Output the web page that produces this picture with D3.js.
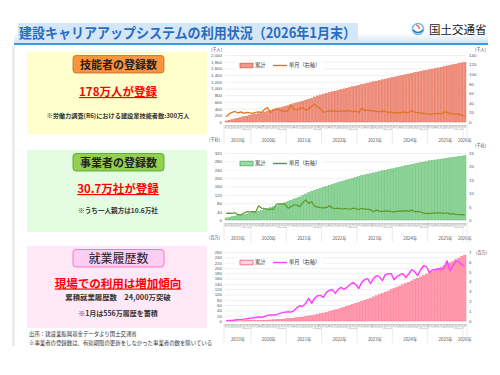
<!DOCTYPE html>
<html>
<head>
<meta charset="utf-8">
<script src="https://cdn.jsdelivr.net/npm/d3@7"></script>
<style>
  body { margin: 0; background: #fff; }
  svg { font-family: "Noto Sans CJK JP", "Noto Sans", sans-serif; }
</style>
</head>
<body>
<div id="chart"></div>
<script>
// months Apr 2019 .. Jan 2026
const years = ["2019年", "2020年", "2021年", "2022年", "2023年", "2024年", "2025年", "2026年"];
const yearMonthCounts = [9, 12, 12, 12, 12, 12, 12, 1];

// 技能者 累計 (千人) / 単月 (千人, 右軸)
const workersTotal = [30,50,72,94,115,135,155,175,195,
  215,235,256,276,300,328,350,372,398,422,446,468,
  490,520,546,572,598,626,652,680,712,748,780,810,
  835,858,880,902,924,945,966,987,1008,1030,1051,1072,
  1092,1114,1136,1158,1180,1200,1220,1240,1260,1280,1300,1320,
  1338,1357,1376,1395,1414,1434,1454,1473,1492,1510,1528,1546,
  1563,1581,1599,1617,1635,1655,1675,1692,1710,1728,1746,1764,
  1780];
const workersMonthly = [11,17,20,22,19,21,18,20,19,
  18,20,21,20,26,30,20,24,28,25,23,22,
  24,35,27,25,28,30,25,27,33,37,32,28,
  20,22,24,22,23,21,24,22,24,23,21,23,
  20,29,24,25,23,24,22,21,23,22,20,21,
  18,20,19,21,19,20,24,20,19,19,18,17,
  16,17,17,18,17,21,20,17,17,16,17,14,
  13];

// 事業者 累計 (千社) / 単月 (千社, 右軸)
const firmsTotal = [10,13,16,19,21,23,26,29,32,
  35,38,43,47,51,55,59,63,67,73,79,84,
  89,94,100,105,110,117,124,130,137,142,147,152,
  157,161,166,170,175,179,183,187,191,195,199,203,
  207,211,215,219,222,225,229,232,235,238,241,244,
  247,250,253,256,259,262,265,268,271,274,277,280,
  283,285,287,289,291,293,295,297,299,301,303,305,
  307];
const firmsMonthly = [2.5,2.6,2.5,2.7,2.0,1.9,2.6,3.1,3.0,
  3.1,3.0,5.3,4.4,4.3,4.0,4.1,3.9,5.8,6.0,6.0,5.8,
  4.4,5.0,5.6,5.6,5.0,6.5,7.5,6.2,6.8,5.2,4.8,4.6,
  4.5,4.6,5.3,4.5,4.2,4.4,4.1,4.3,4.2,4.0,4.4,4.2,
  3.9,4.4,4.0,4.1,3.8,3.1,3.7,3.3,3.2,3.4,3.3,3.1,
  3.0,3.2,3.4,3.3,3.5,3.2,3.7,3.1,3.2,3.0,2.6,2.5,
  2.4,2.6,2.6,2.7,2.6,2.5,2.7,2.2,2.4,2.1,2.0,2.0,
  1.9];

// 就業履歴 累計 (百万) / 単月 (百万, 右軸)
const historyTotal = [0.0,0.1,0.2,0.3,0.4,0.5,0.7,1.0,1.3,
  1.6,1.9,2.3,2.7,3.2,3.7,4.3,4.9,5.5,6.3,7.1,8.0,
  9.0,9.9,11,12,14,15,17,19,21,23,26,28,
  30,33,36,39,42,45,49,52,55,59,63,67,
  70,74,78,82,86,91,95,100,104,109,113,118,
  123,127,132,137,141,146,151,156,161,166,172,177,
  182,187,193,198,203,208,214,219,225,231,237,243,
  248];
const historyMonthly = [0.02,0.04,0.06,0.09,0.12,0.15,0.19,0.24,0.28,
  0.30,0.35,0.40,0.38,0.45,0.55,0.62,0.60,0.62,0.75,0.85,0.90,
  0.95,0.90,1.05,1.35,1.55,1.50,1.80,2.30,1.80,2.30,2.55,2.60,
  2.40,2.90,3.10,3.20,2.80,3.20,3.40,3.20,3.40,3.70,3.90,3.70,
  3.30,3.90,4.20,4.30,3.80,4.30,4.60,4.50,4.10,4.70,4.80,4.80,
  4.20,4.50,4.70,4.80,4.40,4.80,5.20,5.00,4.60,5.20,5.60,5.50,
  4.90,5.20,5.20,5.30,5.20,5.40,6.10,5.10,5.60,6.10,6.00,5.70,
  5.56];

// month labels (categories)
const monthLabels = [];
years.forEach((y, i) => {
  const start = i === 0 ? 4 : 1;
  for (let k = 0; k < yearMonthCounts[i]; k++) monthLabels.push((start + k) + "月");
});

const svg = d3.select("#chart").append("svg")
  .attr("width", 500)
  .attr("height", 375);

const defs = svg.append("defs");
const grad = defs.append("linearGradient").attr("id", "hdr").attr("x1", 0).attr("y1", 0).attr("x2", 0).attr("y2", 1);
grad.append("stop").attr("offset", "0%").attr("stop-color", "#ffffff");
grad.append("stop").attr("offset", "100%").attr("stop-color", "#cfe6f7");

// header
svg.append("rect").attr("x", 14).attr("y", 33).attr("width", 474).attr("height", 10).attr("fill", "url(#hdr)");
svg.append("rect").attr("x", 18).attr("y", 23).attr("width", 340).attr("height", 18).attr("fill", "#d4e7f8");
svg.append("line").attr("x1", 14).attr("x2", 488).attr("y1", 44).attr("y2", 44)
  .attr("stroke", "#3b9be0").attr("stroke-width", 2);
svg.append("text")
  .attr("x", 19).attr("y", 38)
  .attr("font-size", 14).attr("font-weight", "bold")
  .attr("fill", "#2a6cc0")
  .attr("textLength", 337).attr("lengthAdjust", "spacingAndGlyphs")
  .text("建設キャリアアップシステムの利用状況（2026年1月末）");

// logo
const logo = svg.append("g").attr("transform", "translate(418,29)");
logo.append("circle").attr("r", 5.5).attr("fill", "none").attr("stroke", "#6cb8ea").attr("stroke-width", 1.4);
logo.append("path").attr("d", "M-5,1 Q0,6 5,1").attr("fill", "none").attr("stroke", "#1b78c8").attr("stroke-width", 1.6);
logo.append("path").attr("d", "M-2,-4 Q2,-3 1,0").attr("fill", "none").attr("stroke", "#e23b3b").attr("stroke-width", 1.2);
svg.append("text").attr("x", 429).attr("y", 34).attr("font-size", 11.5).attr("fill", "#222").text("国土交通省");

// left gray rule
svg.append("rect").attr("x", 12).attr("y", 46).attr("width", 3).attr("height", 300).attr("fill", "#ececec");

// text panels
const panels = [
  { y: 52, fill: "#ffffcc", box: "#f7953f", boxStroke: "#c8682a", title: "技能者の登録数", bold: true,
    big: "178万人が登録", bigY: 96, notes: [["※労働力調査(R6)における建設業技能者数:300万人", 118, 6.2]] },
  { y: 150, fill: "#e4fde2", box: "#92d050", boxStroke: "#4f9a2c", title: "事業者の登録数", bold: true,
    big: "30.7万社が登録", bigY: 193, notes: [["※うち一人親方は10.6万社", 213, 6.6]] },
  { y: 246, fill: "#ffe8f7", box: "#ffcdf4", boxStroke: "#ff5fa8", title: "就業履歴数", bold: false,
    big: "現場での利用は増加傾向", bigY: 287.5, notes: [["累積就業履歴数　24,000万突破", 300, 7.4], ["※1月は556万履歴を蓄積", 316, 7]] }
];

panels.forEach(p => {
  svg.append("rect").attr("x", 27).attr("y", p.y).attr("width", 180).attr("height", 82).attr("fill", p.fill);
  svg.append("rect").attr("x", 73).attr("y", p.y + 3.5).attr("width", 91).attr("height", 17.5).attr("rx", 3)
    .attr("fill", p.box).attr("stroke", p.boxStroke).attr("stroke-width", 0.8);
  svg.append("text").attr("x", 118.5).attr("y", p.y + 16.5)
    .attr("text-anchor", "middle")
    .attr("font-size", p.bold ? 11 : 12)
    .attr("font-weight", p.bold ? "bold" : "normal")
    .attr("fill", "#222")
    .text(p.title);
  svg.append("text").attr("x", 118).attr("y", p.bigY)
    .attr("text-anchor", "middle")
    .attr("font-size", 11.5).attr("font-weight", "bold")
    .attr("fill", "#ff0000")
    .style("text-decoration", "underline")
    .text(p.big);
  p.notes.forEach(n => {
    svg.append("text").attr("x", 118).attr("y", n[1])
      .attr("text-anchor", "middle")
      .attr("font-size", n[2]).attr("font-weight", "bold")
      .attr("fill", "#333")
      .text(n[0]);
  });
});

// footnotes
svg.append("text").attr("x", 29).attr("y", 336).attr("font-size", 5.4).attr("fill", "#333")
  .text("出所：建設業振興基金データより国土交通省");
svg.append("text").attr("x", 29).attr("y", 345).attr("font-size", 5.4).attr("fill", "#333")
  .text("※事業者の登録数は、有効期限の更新をしなかった事業者の数を除いている");

// charts
const x0 = 225, x1 = 466;
const x = d3.scaleBand().domain(d3.range(monthLabels.length)).range([x0, x1]).paddingInner(0.2);

function drawChart(o) {
  const yL = d3.scaleLinear().domain([0, o.lMax]).range([o.yBot, o.yTop]);
  const yR = d3.scaleLinear().domain([0, o.rMax]).range([o.yBot, o.yTop]);
  const lTicks = d3.range(0, o.lMax + 0.001, o.lStep);
  const rTicks = d3.range(0, o.rMax + 0.001, o.rStep);
  const g = svg.append("g");

  // grid
  g.append("g").attr("transform", `translate(${x0},0)`)
    .call(d3.axisLeft(yL).tickValues(lTicks).tickSize(-(x1 - x0)).tickFormat(""))
    .call(a => a.select(".domain").remove())
    .selectAll("line").attr("stroke", "#e2e2e2").attr("stroke-width", 0.5);

  // left labels
  g.append("g").attr("transform", `translate(${x0 - 3},0)`)
    .call(d3.axisLeft(yL).tickValues(lTicks).tickSize(0).tickPadding(0).tickFormat(o.lFmt))
    .call(a => a.select(".domain").remove())
    .selectAll("text").attr("font-size", 4.4).attr("fill", "#555").attr("font-family", null);

  // right labels
  g.append("g").attr("transform", `translate(${x1 + 3},0)`)
    .call(d3.axisRight(yR).tickValues(rTicks).tickSize(0).tickPadding(0).tickFormat(d3.format("d")))
    .call(a => a.select(".domain").remove())
    .selectAll("text").attr("font-size", 4.4).attr("fill", "#555").attr("font-family", null);

  // units
  g.append("text").attr("x", o.lUnit[0]).attr("y", o.lUnit[1]).attr("font-size", 4.2).attr("fill", "#444").text(o.unit);
  g.append("text").attr("x", o.rUnit[0]).attr("y", o.rUnit[1]).attr("font-size", 4.2).attr("fill", "#444").text(o.unit);

  // bars
  g.append("g").selectAll("rect")
    .data(o.total)
    .join("rect")
    .attr("x", (d, i) => x(i))
    .attr("y", d => yL(d))
    .attr("width", x.bandwidth())
    .attr("height", d => o.yBot - yL(d))
    .attr("fill", o.barFill)
    .attr("stroke", o.barStroke)
    .attr("stroke-width", 0.35);

  // monthly line
  const line = d3.line()
    .x((d, i) => x(i) + x.bandwidth() / 2)
    .y(d => yR(d));
  g.append("path").datum(o.monthly)
    .attr("d", line)
    .attr("fill", "none")
    .attr("stroke", o.lineColor)
    .attr("stroke-width", o.lineW)
    .attr("stroke-linejoin", "round");

  // month labels
  g.append("g").selectAll("text")
    .data(monthLabels)
    .join("text")
    .attr("transform", (d, i) => `translate(${x(i) + x.bandwidth() / 2 + 1},${o.yBot + 2.5}) rotate(-90)`)
    .attr("text-anchor", "end")
    .attr("font-size", 2.8)
    .attr("fill", "#888")
    .text(d => d);

  // year groups
  let start = 0;
  const bounds = [x0 - 1];
  years.forEach((yl, i) => {
    const end = start + yearMonthCounts[i] - 1;
    const cx = (x(start) + x(end) + x.bandwidth()) / 2;
    g.append("text").attr("x", cx).attr("y", o.yBot + 19.5)
      .attr("text-anchor", "middle").attr("font-size", 4.4).attr("fill", "#555").text(yl);
    start = end + 1;
    bounds.push(i === years.length - 1 ? x1 + 1 : x(start) - 0.6);
  });
  g.append("g").selectAll("line")
    .data(bounds)
    .join("line")
    .attr("x1", d => d).attr("x2", d => d)
    .attr("y1", o.yBot + 2).attr("y2", o.yBot + 22)
    .attr("stroke", "#d6d6d6").attr("stroke-width", 0.5);

  // legend
  const ly = o.yTop + 10.5;
  g.append("rect").attr("x", 235).attr("y", ly - 5).attr("width", 88).attr("height", 10).attr("fill", "#fff");
  g.append("rect").attr("x", 240).attr("y", ly - 2.3).attr("width", 13).attr("height", 4.6)
    .attr("fill", o.legendFill).attr("stroke", o.barStroke).attr("stroke-width", 0.8);
  g.append("text").attr("x", 255).attr("y", ly + 1.8).attr("font-size", 5.2).attr("fill", "#333").text("累計");
  g.append("line").attr("x1", 273).attr("x2", 287).attr("y1", ly).attr("y2", ly)
    .attr("stroke", o.lineColor).attr("stroke-width", 1.4);
  g.append("text").attr("x", 289).attr("y", ly + 1.8).attr("font-size", 5.2).attr("fill", "#333").text("単月（右軸）");
}

drawChart({
  yTop: 55, yBot: 122, lMax: 2000, lStep: 200, rMax: 140, rStep: 20,
  lFmt: d3.format(","), unit: "(千人)", lUnit: [211, 51], rUnit: [475, 51],
  total: workersTotal, monthly: workersMonthly,
  barFill: "#ef8e7a", barStroke: "#df5c48", legendFill: "#f29a88",
  lineColor: "#e0761f", lineW: 1.3
});

drawChart({
  yTop: 153, yBot: 220, lMax: 320, lStep: 40, rMax: 25, rStep: 5,
  lFmt: d3.format("d"), unit: "(千社)", lUnit: [209, 141], rUnit: [475, 147],
  total: firmsTotal, monthly: firmsMonthly,
  barFill: "#8ad596", barStroke: "#4eae5c", legendFill: "#9bdba5",
  lineColor: "#5a9a26", lineW: 1.2
});

drawChart({
  yTop: 252, yBot: 321, lMax: 260, lStep: 20, rMax: 7, rStep: 1,
  lFmt: d3.format("d"), unit: "(百万)", lUnit: [209, 239], rUnit: [476, 253.5],
  total: historyTotal, monthly: historyMonthly,
  barFill: "#ff99ad", barStroke: "#ff5a7a", legendFill: "#ffd6e0",
  lineColor: "#ff44ff", lineW: 1.5
});
</script>
</body>
</html>
